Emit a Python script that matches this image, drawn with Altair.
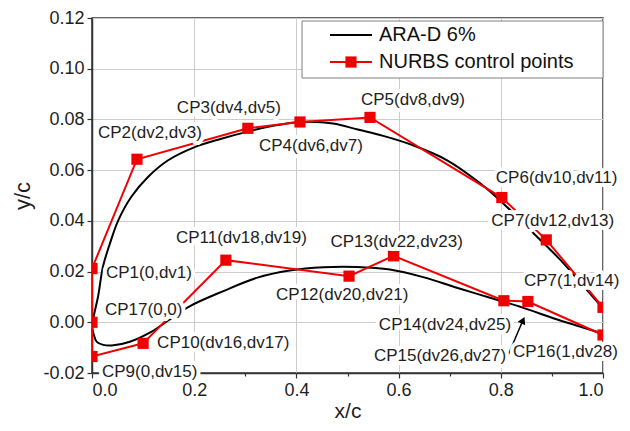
import altair as alt
import pandas as pd

FONT = "Liberation Sans"
RED = "#f00000"

# ---- ARA-D 6% airfoil (upper surface TE -> LE, lower surface LE -> TE) ----
upper_x = [1.0, 0.95, 0.916, 0.863, 0.812, 0.759, 0.695, 0.628, 0.57, 0.52, 0.472,
           0.41, 0.357, 0.305, 0.253, 0.201, 0.149, 0.110, 0.077, 0.051, 0.035,
           0.0215, 0.012, 0.004, 0.0]
upper_y = [0.0055, 0.017, 0.0247, 0.0353, 0.0455, 0.0549, 0.0639, 0.0698, 0.0735,
           0.0760, 0.0784, 0.0790, 0.0776, 0.0752, 0.0724, 0.0691, 0.0639, 0.0574,
           0.0495, 0.0400, 0.0310, 0.0220, 0.0103, 0.0030, -0.0015]
lower_x = [0.003, 0.009, 0.022, 0.042, 0.074, 0.114, 0.153, 0.192, 0.257, 0.322,
           0.387, 0.453, 0.518, 0.583, 0.648, 0.714, 0.779, 0.844, 0.909, 1.0]
lower_y = [-0.0045, -0.0076, -0.0089, -0.0091, -0.0077, -0.0040, 0.0012, 0.0064,
           0.0123, 0.0175, 0.0204, 0.0217, 0.0218, 0.0208, 0.0178, 0.0136, 0.0097,
           0.0057, 0.0012, -0.0045]

# ---- NURBS control points ----
cp_names = ["CP1", "CP2", "CP3", "CP4", "CP5", "CP6", "CP7", "CP8", "CP9", "CP10",
            "CP11", "CP12", "CP13", "CP14", "CP15", "CP16", "CP17"]
cp_x = [0.0, 0.088, 0.305, 0.407, 0.544, 0.802, 0.889, 1.0, 0.0, 0.100,
        0.262, 0.503, 0.590, 0.806, 0.853, 1.0, 0.0]
cp_y = [0.0212, 0.0643, 0.0765, 0.0790, 0.0808, 0.0492, 0.0325, 0.0059, -0.0135,
        -0.0083, 0.0245, 0.0182, 0.0262, 0.0085, 0.0082, -0.0050, 0.0]
cp_labels = ["CP1(0,dv1)", "CP2(dv2,dv3)", "CP3(dv4,dv5)", "CP4(dv6,dv7)",
             "CP5(dv8,dv9)", "CP6(dv10,dv11)", "CP7(dv12,dv13)", "CP7(1,dv14)",
             "CP9(0,dv15)", "CP10(dv16,dv17)", "CP11(dv18,dv19)", "CP12(dv20,dv21)",
             "CP13(dv22,dv23)", "CP14(dv24,dv25)", "CP15(dv26,dv27)", "CP16(1,dv28)",
             "CP17(0,0)"]
polygon_order = ["CP8", "CP7", "CP6", "CP5", "CP4", "CP3", "CP2", "CP1", "CP17",
                 "CP9", "CP10", "CP11", "CP12", "CP13", "CP14", "CP15", "CP16"]

# label placement (pixel offsets from each control point) - styling only
label_dx = [14, -39, -71, -41, -9, -6, -55, -79, 10, 14, -50, -73, -63, -125, -154, -90, 13]
label_dy = [4, -26, -20, 24, -17, -20, -19, -26, 15, 0, -22, 19, -14, 24, 55, 17, -12]

# annotation arrow for CP15 (start -> tip, data units)
arrow_x = [0.812, 0.8434]
arrow_y = [-0.0140, 0.0008]

legend_names = ["ARA-D 6%", "NURBS control points"]

# ---- tables ----
air_x = upper_x + lower_x
air_y = upper_y + lower_y
airfoil = pd.DataFrame({"x": air_x, "y": air_y, "order": list(range(len(air_x)))})

cp = pd.DataFrame({"name": cp_names, "x": cp_x, "y": cp_y, "label": cp_labels})
cp["order"] = cp["name"].map({n: i for i, n in enumerate(polygon_order)})

arrow = pd.DataFrame({"x": [arrow_x[0]], "y": [arrow_y[0]],
                      "x2": [arrow_x[1]], "y2": [arrow_y[1]]})
tip = pd.DataFrame({"x": [arrow_x[1]], "y": [arrow_y[1]]})
legend_df = pd.DataFrame({"series": legend_names})

x_vals = [round(i * 0.1, 1) for i in range(11)]
y_vals = [round(-0.02 + 0.01 * i, 2) for i in range(15)]

x_minor = "abs(round(datum.value*10)) % 2 == 1"
y_minor = "abs(round(datum.value*100)) % 2 == 1"

x_axis = alt.Axis(
    values=x_vals, title="x/c",
    labelExpr="abs(round(datum.value*10)) % 2 == 0 ? format(datum.value, '.1f') : ''",
    tickSize={"condition": {"test": x_minor, "value": 3}, "value": 5},
    gridOpacity={"condition": {"test": x_minor, "value": 0}, "value": 1},
    labelPadding=3, titlePadding=1, titleFontSize=21,
)
y_axis = alt.Axis(
    values=y_vals, title="y/c",
    labelExpr="abs(round(datum.value*100)) % 2 == 0 ? (datum.value < -0.0001 ? '-' : '') + format(abs(datum.value), '.2f') : ''",
    tickSize={"condition": {"test": y_minor, "value": 3}, "value": 5},
    gridOpacity={"condition": {"test": y_minor, "value": 0}, "value": 1},
    labelPadding=3, titlePadding=8,
)
xs = alt.Scale(domain=[0, 1], nice=False, zero=False)
ys = alt.Scale(domain=[-0.02, 0.12], nice=False, zero=False)

X = alt.X("x:Q", scale=xs, axis=x_axis)
Y = alt.Y("y:Q", scale=ys, axis=y_axis)

air_line = alt.Chart(airfoil).mark_line(
    color="black", strokeWidth=2, interpolate="catmull-rom", clip=True
).encode(x=X, y=Y, order="order:Q")

poly_line = alt.Chart(cp).mark_line(color=RED, strokeWidth=2, clip=True).encode(
    x="x:Q", y="y:Q", order="order:Q")

squares = alt.Chart(cp).mark_square(color=RED, size=125, opacity=1, clip=True).encode(
    x="x:Q", y="y:Q")

arrow_line = alt.Chart(arrow).mark_rule(color="black", strokeWidth=1.5).encode(
    x="x:Q", y="y:Q", x2="x2:Q", y2="y2:Q")
arrow_head = alt.Chart(tip).mark_point(
    shape="triangle-up", angle=26, size=70, filled=True, color="black", opacity=1
).encode(x="x:Q", y="y:Q")

halos, texts = [], []
for i, lab in enumerate(cp_labels):
    base = alt.Chart(cp).transform_filter(alt.datum.label == lab)
    common = dict(align="left", baseline="middle", dx=label_dx[i], dy=label_dy[i],
                  fontSize=17, font=FONT)
    halos.append(base.mark_text(stroke="white", strokeWidth=8, strokeJoin="round",
                                fill="white", **common).encode(x="x:Q", y="y:Q", text="label:N"))
    texts.append(base.mark_text(fill="#1e1e1e", **common).encode(
        x="x:Q", y="y:Q", text="label:N"))

# ---- legend (drawn in plot pixel space) ----
leg_box = alt.Chart(legend_df.head(1)).mark_rect(
    fill="white", stroke="#808080", strokeWidth=1
).encode(x=alt.value(210), x2=alt.value(511), y=alt.value(3), y2=alt.value(60))
leg_l1 = alt.Chart(legend_df.head(1)).mark_rule(color="black", strokeWidth=2).encode(
    x=alt.value(238), x2=alt.value(280), y=alt.value(17))
leg_l2 = alt.Chart(legend_df.head(1)).mark_rule(color=RED, strokeWidth=2).encode(
    x=alt.value(238), x2=alt.value(280), y=alt.value(44))
leg_sq = alt.Chart(legend_df.head(1)).mark_square(color=RED, size=125, opacity=1).encode(
    x=alt.value(259), y=alt.value(44))
leg_t1 = alt.Chart(legend_df.iloc[[0]]).mark_text(
    align="left", baseline="middle", fontSize=20, font=FONT, color="#111"
).encode(x=alt.value(287), y=alt.value(17), text="series:N")
leg_t2 = alt.Chart(legend_df.iloc[[1]]).mark_text(
    align="left", baseline="middle", fontSize=20, font=FONT, color="#111"
).encode(x=alt.value(287), y=alt.value(44), text="series:N")

chart = alt.layer(
    air_line, poly_line, squares, arrow_line, arrow_head, *halos, *texts,
    leg_box, leg_l1, leg_l2, leg_sq, leg_t1, leg_t2
).properties(
    width=511, height=355,
    autosize=alt.AutoSizeParams(type="none"),
    padding={"left": 84, "top": 10, "right": 19, "bottom": 50},
).configure_view(
    stroke="#333333", strokeWidth=1.5
).configure_axis(
    labelFont=FONT, titleFont=FONT, labelFontSize=18, titleFontSize=22,
    titleFontWeight="normal", labelColor="#1e1e1e", titleColor="#1e1e1e",
    domainColor="#333333", domainWidth=1.5, tickColor="#333333", tickWidth=1.2,
    gridColor="#cccccc", gridWidth=1,
)

chart.save("out.html", embed_options={"renderer": "svg", "actions": False})
